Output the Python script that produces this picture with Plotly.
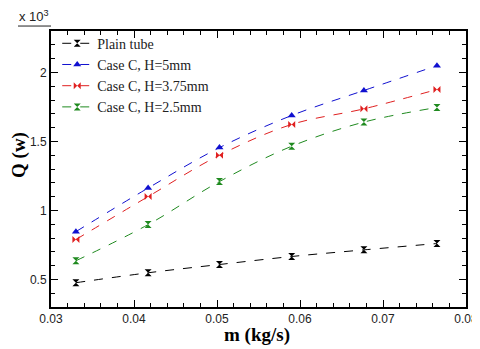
import plotly.graph_objects as go

m = [0.033, 0.0417, 0.0503, 0.059, 0.0677, 0.0765]
q_plain = [0.476, 0.548, 0.608, 0.666, 0.714, 0.760]
q_h5 = [0.846, 1.162, 1.455, 1.688, 1.869, 2.049]
q_h375 = [0.789, 1.100, 1.400, 1.623, 1.736, 1.876]
q_h25 = [0.635, 0.897, 1.209, 1.465, 1.640, 1.746]

series = [
    ("Plain tube", q_plain, "black", "hourglass"),
    ("Case C, H=5mm", q_h5, "#1010d0", "triangle-up"),
    ("Case C, H=3.75mm", q_h375, "#e02020", "bowtie"),
    ("Case C, H=2.5mm", q_h25, "#1f8a1f", "hourglass"),
]

fig = go.Figure()
for name, q, col, sym in series:
    fig.add_trace(go.Scatter(
        x=m, y=q, name=name, mode="lines+markers",
        line=dict(color=col, width=1, dash="dash", shape="spline"),
        marker=dict(symbol=sym, size=7, color=col),
    ))

serif = "Liberation Serif, Times New Roman"
axis = dict(
    showline=True, linecolor="black", linewidth=2, mirror="ticks",
    ticks="inside", ticklen=7, tickcolor="black", showgrid=False, zeroline=False,
    tickfont=dict(family="Liberation Sans, Arial", size=12, color="#222"),
    ticklabeloverflow="allow", automargin=False,
)
fig.update_xaxes(axis, range=[0.03, 0.08], dtick=0.01, tickformat=".2f",
                 minor=dict(ticks="inside", ticklen=4, dtick=0.002, tickcolor="black"))
fig.update_yaxes(axis, range=[0.3, 2.3], tickvals=[0.5, 1, 1.5, 2],
                 ticktext=["0.5", "1", "1.5", "2"],
                 minor=dict(ticks="inside", ticklen=4, dtick=0.1, tickcolor="black"))

# axis titles as annotations so they sit where the reference has them
fig.add_annotation(xref="paper", yref="paper", x=0.497, y=-0.101, xanchor="center", yanchor="middle",
                   showarrow=False, text="<b>m (kg/s)</b>",
                   font=dict(family=serif, size=19, color="black"))
fig.add_annotation(xref="paper", yref="paper", x=-0.077, y=0.551, xanchor="center", yanchor="middle",
                   showarrow=False, textangle=-90, text="<b>Q (w)</b>",
                   font=dict(family=serif, size=19, color="black"))

fig.add_annotation(xref="paper", yref="paper", x=-0.0795, y=1.022, xanchor="left", yanchor="bottom",
                   text="x 10<sup>3</sup>", showarrow=False, borderpad=0,
                   font=dict(family="Liberation Sans, Arial", size=13, color="#222"))
fig.add_shape(type="line", xref="paper", yref="paper", x0=-0.0795, x1=0.0, y0=1.018, y1=1.018,
              line=dict(color="#222", width=1))

# the page body has an 8px margin, so the figure is shrunk and margins shifted
fig.update_layout(
    width=472, height=341, margin=dict(l=43, r=14, t=23, b=42),
    plot_bgcolor="white", paper_bgcolor="white",
    legend=dict(x=0.015, y=1.012, xanchor="left", yanchor="top", bgcolor="rgba(0,0,0,0)",
                font=dict(family=serif, size=14, color="#222"),
                tracegroupgap=0, itemwidth=30),
    showlegend=True,
)
fig.write_html("out.html")
